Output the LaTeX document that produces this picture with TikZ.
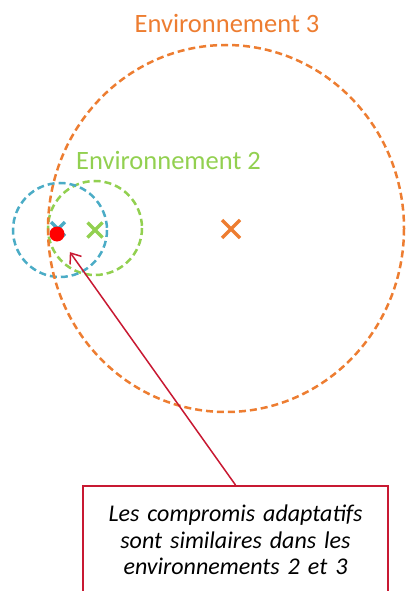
\documentclass[tikz,border=0pt]{standalone}
\usepackage{fontspec}
\setmainfont{Carlito}
\usetikzlibrary{arrows.meta}
\definecolor{envorange}{RGB}{237,125,49}
\definecolor{envgreen}{RGB}{146,208,80}
\definecolor{envblue}{RGB}{75,172,198}
\definecolor{notered}{RGB}{200,25,50}
\tikzset{
  envline/.style={line width=2.5pt, dash pattern=on 7pt off 4pt},
  optmark/.style={line width=3.5pt},
  envlabel/.style={font=\fontsize{26.5}{30}\selectfont, anchor=base},
  notebox/.style={draw=notered, line width=2pt, anchor=north, text width=280pt,
    inner xsep=12.5pt, inner ysep=19pt, align=center,
    font=\itshape\fontsize{24}{26.5}\selectfont},
}

\begin{document}
\begin{tikzpicture}[x=1pt,y=-1pt]
    \useasboundingbox (0,0) rectangle (405,591);
    % optima of the three environments
    \coordinate (opt3) at (231,229);
    \coordinate (opt2) at (95,230);
    \coordinate (opt1) at (58,229);
    \draw [envline, envgreen] (95,228) circle [radius=47];
    \draw [envline, envblue] (60,230) circle [radius=47];
    \draw [envline, envorange] (226,228.5) ellipse [x radius=178, y radius=183.5];
    \node [envlabel, text=envorange] (env3) at (227,33) {Environnement 3};
    \node [envlabel, text=envgreen] (env2) at (168.5,169) {Environnement 2};
    \draw [optmark, envorange] (opt3) +(-9,-9) -- +(9,9) +(-9,9) -- +(9,-9);
    \draw [optmark, envgreen] (opt2) +(-7.5,-7.5) -- +(7.5,7.5) +(-7.5,7.5) -- +(7.5,-7.5);
    \draw [optmark, envblue] (opt1) +(-7,-7) -- +(7,7) +(-7,7) -- +(7,-7);
    \node [circle, fill=red, inner sep=0pt, minimum size=15pt] (compromis) at (57,234) {};
    % note
    \node [notebox] (note) at (235.5,485) {Les compromis adaptatifs sont similaires dans les environnements 2 et 3};
    \draw [-{Straight Barb[length=9pt,width=14pt]}, notered, line width=1.5pt, shorten >=14.5pt] (note.north) -- (compromis);
\end{tikzpicture}
\end{document}
